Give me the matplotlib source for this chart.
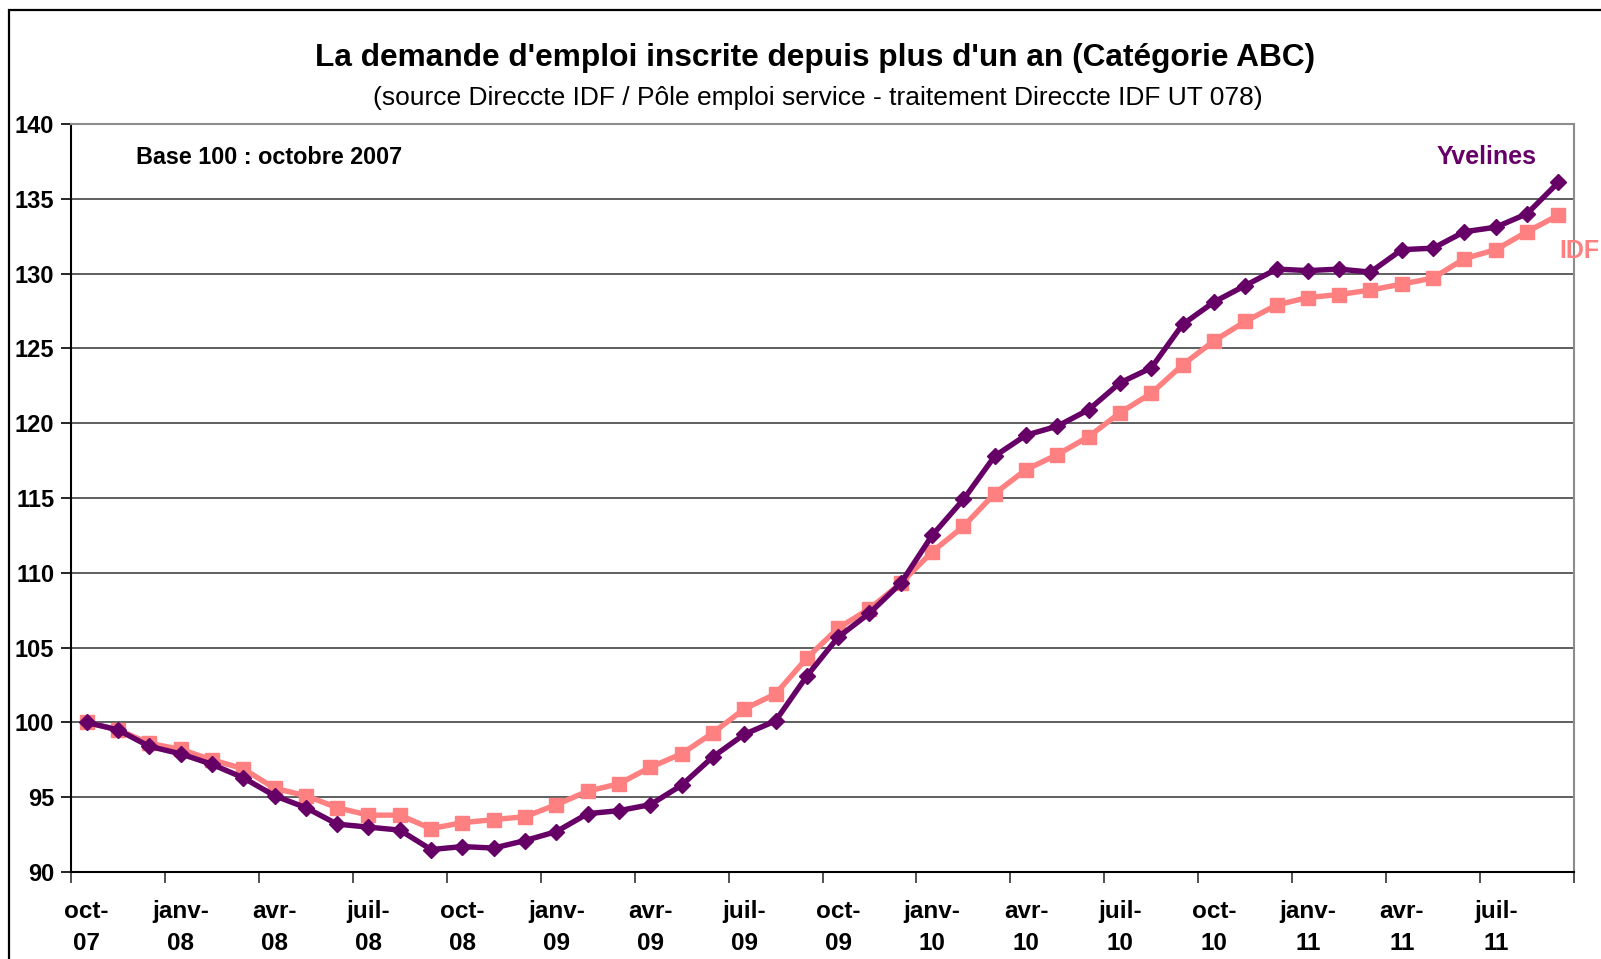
import matplotlib
matplotlib.use("Agg")
import matplotlib.pyplot as plt
from matplotlib.patches import Rectangle
import numpy as np

plt.rcParams['font.family'] = ['Liberation Sans', 'DejaVu Sans']

# Indices base 100 octobre 2007, mensuels oct-07 -> sept-11
yvelines = [100.0, 99.5, 98.4, 97.9, 97.2, 96.3, 95.1, 94.3, 93.2, 93.0, 92.8, 91.5,
            91.7, 91.6, 92.1, 92.7, 93.9, 94.1, 94.5, 95.8, 97.7, 99.2, 100.1, 103.1,
            105.7, 107.3, 109.3, 112.5, 114.9, 117.8, 119.2, 119.8, 120.9, 122.7, 123.7, 126.6,
            128.1, 129.2, 130.3, 130.2, 130.3, 130.1, 131.6, 131.7, 132.8, 133.1, 134.0, 136.1]
idf = [100.0, 99.5, 98.6, 98.2, 97.5, 96.9, 95.6, 95.1, 94.3, 93.8, 93.8, 92.9,
       93.3, 93.5, 93.7, 94.5, 95.4, 95.9, 97.0, 97.9, 99.3, 100.9, 101.9, 104.3,
       106.3, 107.6, 109.3, 111.4, 113.1, 115.3, 116.9, 117.9, 119.1, 120.7, 122.0, 123.9,
       125.5, 126.8, 127.9, 128.4, 128.6, 128.9, 129.3, 129.7, 131.0, 131.6, 132.8, 133.9]
quarter_labels = ['oct-\n07', 'janv-\n08', 'avr-\n08', 'juil-\n08',
                  'oct-\n08', 'janv-\n09', 'avr-\n09', 'juil-\n09',
                  'oct-\n09', 'janv-\n10', 'avr-\n10', 'juil-\n10',
                  'oct-\n10', 'janv-\n11', 'avr-\n11', 'juil-\n11']

PURPLE = '#660066'
SALMON = '#FF8080'

W, H = 1601, 959
fig = plt.figure(figsize=(W / 100, H / 100), dpi=100)
ax = fig.add_axes([71 / W, 1 - 872 / H, (1574 - 71) / W, (872 - 124) / H])

x = np.arange(len(yvelines))
ax.plot(x, idf, color=SALMON, lw=3.9, marker='s', ms=9.5, mec=SALMON, zorder=3)
ax.plot(x, yvelines, color=PURPLE, lw=3.9, marker='D', ms=8.5, mec=PURPLE, zorder=4)

ax.set_xlim(-0.5, len(x) - 0.5)
ax.set_ylim(90, 140)
ax.set_yticks(np.arange(90, 141, 5))
ax.yaxis.grid(True, color='#333333', lw=1.1)
ax.set_axisbelow(True)

# graduations aux limites de trimestre, étiquettes au milieu du 1er mois
ax.set_xticks(np.arange(-0.5, len(x), 3))
ax.set_xticklabels([])
ax.set_xticks(np.arange(0, len(x), 3), minor=True)
ax.set_xticklabels(quarter_labels, minor=True, fontsize=17.5, fontweight='bold',
                   linespacing=1.5)
ax.tick_params(axis='x', which='major', length=8, width=1.2, color='#333333')
ax.tick_params(axis='x', which='minor', length=0, pad=20)
ax.tick_params(axis='y', length=7, width=1.2, labelsize=17, pad=5)
for lab in ax.get_yticklabels():
    lab.set_fontweight('bold')

ax.spines['left'].set_color('black')
ax.spines['bottom'].set_color('black')
ax.spines['left'].set_linewidth(1.5)
ax.spines['bottom'].set_linewidth(1.5)
ax.spines['top'].set_color('#8c8c8c')
ax.spines['right'].set_color('#8c8c8c')
ax.spines['top'].set_linewidth(1.5)
ax.spines['right'].set_linewidth(1.5)

fig.text(815 / W, 1 - 58 / H, "La demande d'emploi inscrite depuis plus d'un an (Catégorie ABC)",
         ha='center', va='center', fontsize=22.8, fontweight='bold')
fig.text(818 / W, 1 - 98 / H, "(source Direccte IDF / Pôle emploi service - traitement Direccte IDF UT 078)",
         ha='center', va='center', fontsize=19)
fig.text(136 / W, 1 - 157 / H, "Base 100 : octobre 2007", ha='left', va='center',
         fontsize=16.8, fontweight='bold')
fig.text(1537 / W, 1 - 157 / H, "Yvelines", ha='right', va='center',
         fontsize=18, fontweight='bold', color=PURPLE)
fig.text(1559 / W, 1 - 251 / H, "IDF", ha='left', va='center',
         fontsize=18, fontweight='bold', color=SALMON)

# cadre extérieur du graphique
fig.patches.append(Rectangle((9 / W, -0.1), 1.2, 1 - 10 / H + 0.1, transform=fig.transFigure,
                             fill=False, lw=1.6, edgecolor='black'))

fig.savefig('out.png', dpi=100)
